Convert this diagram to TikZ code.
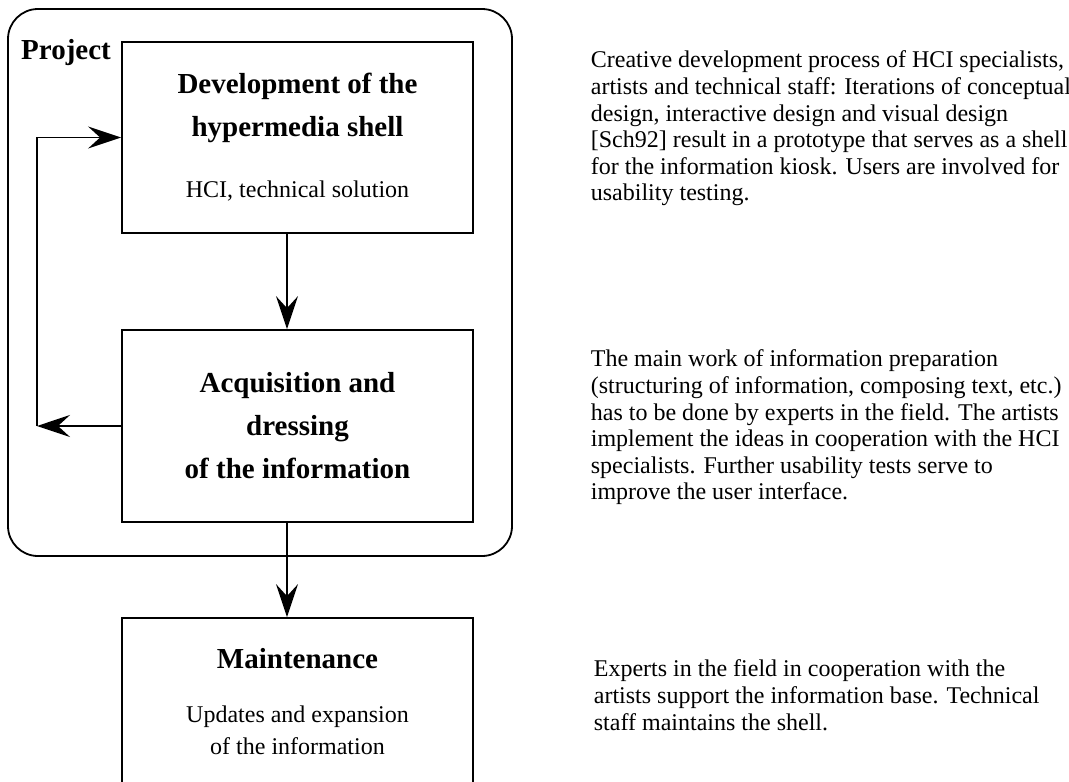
\documentclass[tikz,border=0pt]{standalone}
\usepackage{fontspec}
\setmainfont{Liberation Serif}
\usetikzlibrary{arrows.meta,positioning}

\newcommand\headfont{\fontsize{29}{43}\selectfont\bfseries\spaceskip=\fontdimen2\font\relax}
\newcommand\subfont{\fontsize{24}{32}\selectfont\mdseries\spaceskip=\fontdimen2\font\relax}

\begin{document}
\begin{tikzpicture}[x=1pt, y=-1pt, line width=1.8pt,
  box/.style={draw, minimum width=351pt, inner sep=0pt, text width=345pt, align=center},
  frame/.style={draw, rounded corners=30pt, minimum width=504pt, minimum height=547pt, inner sep=0pt},
  arr/.style={-{Stealth[length=33pt, width=22pt, inset=12pt]}},
  title/.style={font=\headfont, inner sep=0pt},
  desc/.style={anchor=north west, inner sep=0pt, align=left, font=\fontsize{24}{26.6}\selectfont}]
  \useasboundingbox (0,0) rectangle (1069,782);
  \clip (0,0) rectangle (1069,782);
  % project frame
  \node[frame] (frm) at (260,282.5) {};
  \node[title, anchor=base] (proj) at (66,59.5) {Project};
  % phases
  \node[box, minimum height=191pt] (dev) at (297.5,137.5)
    {{\headfont Development of the\\ hypermedia shell\par}\vspace{29pt}{\subfont HCI, technical solution\par}\vspace{6pt}};
  \node[box, minimum height=192pt] (acq) at (297.5,426)
    {{\headfont Acquisition and\\ dressing\\ of the information\par}};
  \node[box, minimum height=168pt] (mnt) at (297.5,702)
    {{\headfont Maintenance\par}\vspace{22pt}{\subfont Updates and expansion\\ of the information\par}};
  % descriptions
  \node[desc] (d1) at (590,50) {Creative development process of HCI specialists,\\
    artists and technical staff: Iterations of conceptual\\
    design, interactive design and visual design\\
    {[}Sch92{]} result in a prototype that serves as a shell\\
    for the information kiosk. Users are involved for\\
    usability testing.};
  \node[desc] (d2) at (590,349) {The main work of information preparation\\
    (structuring of information, composing text, etc.)\\
    has to be done by experts in the field. The artists\\
    implement the ideas in cooperation with the HCI\\
    specialists. Further usability tests serve to\\
    improve the user interface.};
  \node[desc] (d3) at (593,659) {Experts in the field in cooperation with the\\
    artists support the information base. Technical\\
    staff maintains the shell.};
  % flow
  \coordinate (back) at (37,426);
  \draw[arr] ([xshift=-10.5pt]dev.south) -- ([xshift=-10.5pt]acq.north);
  \draw[arr] ([xshift=-10.5pt]acq.south) -- ([xshift=-10.5pt]mnt.north);
  \draw[arr] (acq.west) -- (back);
  \draw[arr] (back) |- (dev.west);
\end{tikzpicture}
\end{document}
